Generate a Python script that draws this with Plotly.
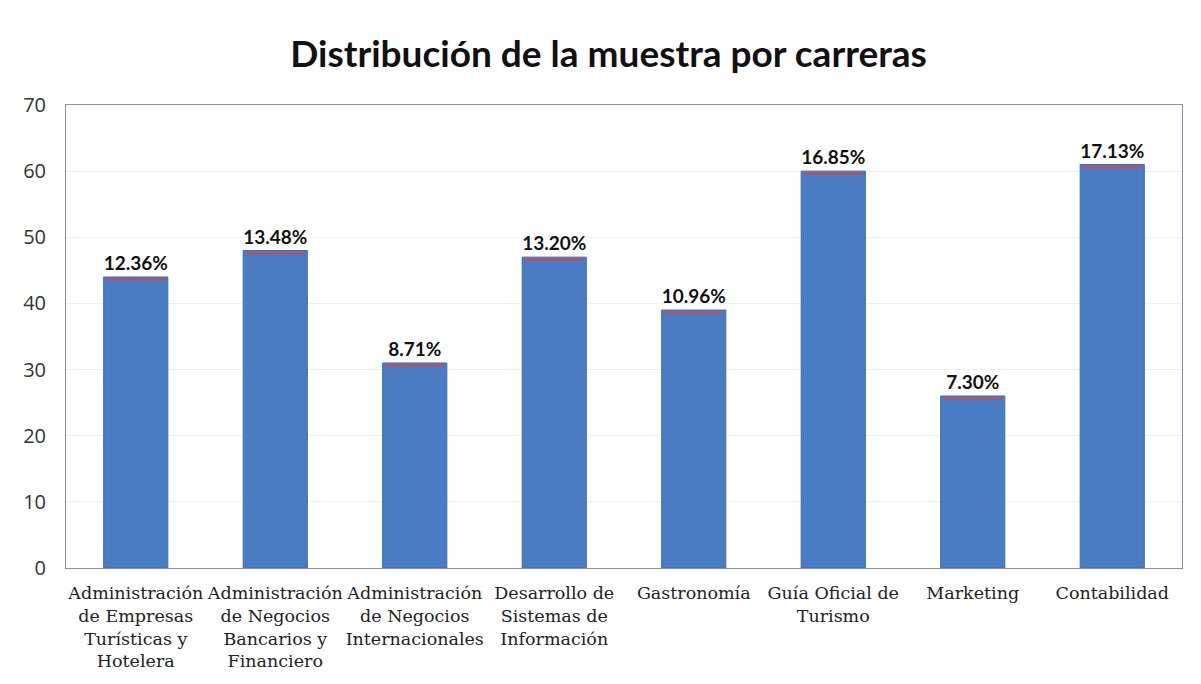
import plotly.graph_objects as go

categories = [
    "Administración<br>de Empresas<br>Turísticas y<br>Hotelera",
    "Administración<br>de Negocios<br>Bancarios y<br>Financiero",
    "Administración<br>de Negocios<br>Internacionales",
    "Desarrollo de<br>Sistemas de<br>Información",
    "Gastronomía",
    "Guía Oficial de<br>Turismo",
    "Marketing",
    "Contabilidad",
]
counts = [44, 48, 31, 47, 39, 60, 26, 61]
pct_labels = ["12.36%", "13.48%", "8.71%", "13.20%", "10.96%", "16.85%", "7.30%", "17.13%"]
y_ticks = [0, 10, 20, 30, 40, 50, 60, 70]

fig = go.Figure()
fig.add_trace(go.Bar(
    x=categories, y=counts, text=pct_labels, textposition="outside",
    textfont=dict(family="Lato", size=19, color="#111111", weight="bold"),
    marker=dict(color="#4a7cc4", line=dict(color="#3d6db3", width=1)),
    width=0.46, cliponaxis=False, hoverinfo="skip",
))
fig.add_trace(go.Scatter(
    x=categories, y=[c - 0.4 for c in counts], mode="markers",
    marker=dict(symbol="line-ew", size=42, line=dict(color="#d04848", width=2)),
    hoverinfo="skip", showlegend=False, cliponaxis=False,
))

fig.update_layout(
    width=1201, height=684,
    margin=dict(l=58, r=27, t=97, b=124, autoexpand=False),
    paper_bgcolor="white", plot_bgcolor="white",
    showlegend=False,
    title=dict(text="<b>Distribución de la muestra por carreras</b>",
               x=0.5, xanchor="center", y=0.932, yanchor="middle",
               font=dict(family="Lato", size=37, color="#111111")),
    bargap=0.54,
)
fig.update_xaxes(
    range=[-0.5, len(categories) - 0.5],
    tickfont=dict(family="DejaVu Serif", size=17.5, color="#222222"),
    showline=True, linecolor="#8a8ac8", linewidth=1, mirror=True,
    ticks="", showgrid=False, automargin=False, ticklabelstandoff=9,
)
fig.update_yaxes(
    range=[0, 70], tickvals=y_ticks,
    tickfont=dict(family="Open Sans", size=20, color="#333333"),
    showline=True, linecolor="#8a8ac8", linewidth=1, mirror=True,
    gridcolor="#f0f0f0", ticks="", zeroline=False, ticklabelstandoff=15,
    automargin=False,
)
fig.write_html("out.html")
